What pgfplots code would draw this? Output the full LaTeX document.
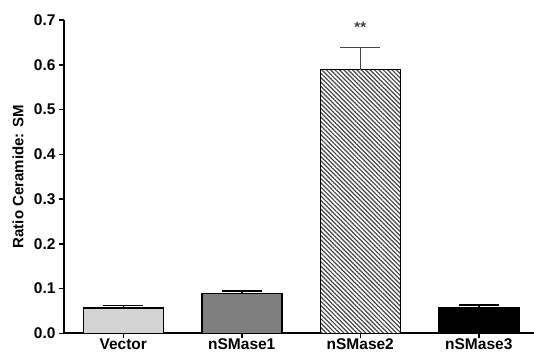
\documentclass[border=0pt]{standalone}
\usepackage{fontspec}
\setmainfont{Liberation Sans}
\usepackage{pgfplots}
\pgfplotsset{compat=1.18}
\usetikzlibrary{patterns.meta}
\definecolor{lgray}{HTML}{D4D4D4}
\definecolor{mgray}{HTML}{7F7F7F}
\definecolor{hatchc}{HTML}{444444}
\begin{document}
\begin{tikzpicture}
\begin{axis}[
  name=ax,
  clip=false,
  scale only axis,
  width=470bp, height=313.3bp,
  xmin=-0.5, xmax=3.466,
  ymin=0, ymax=0.7,
  axis lines=left,
  axis line style={line width=2bp, -},
  ybar,
  bar width=80bp,
  xtick={0,1,2,3},
  xticklabels={Vector,nSMase1,nSMase2,nSMase3},
  ytick={0,0.1,...,0.7},
  yticklabel style={/pgf/number format/.cd, fixed, fixed zerofill, precision=1},
  /pgf/number format/assume math mode=true,
  tick align=outside,
  major tick length=5bp,
  tick style={line width=1.5bp, black},
  every tick label/.append style={font=\fontsize{15.5bp}{18bp}\selectfont\bfseries},
  xticklabel style={yshift=3bp},
  error bars/y dir=plus,
  error bars/y explicit,
  error bars/error bar style={line width=1.5bp, black},
  error bars/error mark options={rotate=90, mark size=20bp, line width=1.5bp, black},
]
\addplot[bar shift=0pt, fill=lgray, draw=black, line width=1.5bp] coordinates {(0,0.056) +- (0,0.0056)};
\addplot[bar shift=0pt, fill=mgray, draw=black, line width=1.5bp] coordinates {(1,0.0893) +- (0,0.0051)};
\addplot[bar shift=0pt, fill=white, postaction={pattern={Lines[angle=-45, distance=3.1bp, line width=1.2bp]}, pattern color=hatchc}, draw=black, line width=1.5bp, error bars/error bar style={line width=1.5bp, hatchc}, error bars/error mark options={rotate=90, mark size=20bp, line width=1.5bp, hatchc}] coordinates {(2,0.589) +- (0,0.049)};
\addplot[bar shift=0pt, fill=black, draw=black, line width=1.5bp] coordinates {(3,0.058) +- (0,0.005)};
\node[font=\fontsize{15bp}{18bp}\selectfont\bfseries, text=hatchc] at (axis cs:2,0.683) {**};
\node[font=\fontsize{15bp}{18bp}\selectfont\bfseries, rotate=90, anchor=center] at ([xshift=-46bp]axis description cs:0,0.5) {Ratio Ceramide: SM};
\end{axis}
\pgfresetboundingbox
\path[use as bounding box] ([xshift=-64bp,yshift=-19.7bp]ax.south west) rectangle ([yshift=20bp]ax.north east);
\end{tikzpicture}
\end{document}
